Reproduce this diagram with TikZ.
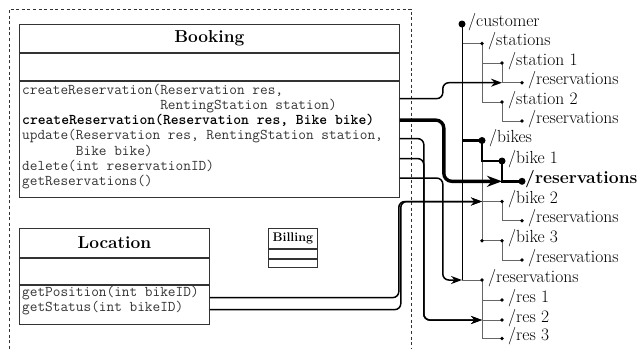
\documentclass[tikz,border=0pt]{standalone}
\usepackage{fontspec}
\usetikzlibrary{arrows.meta}
\pgfdeclarelayer{background}
\pgfsetlayers{background,main}
\newcommand\hdfont{\fontsize{17.3}{20}\selectfont\bfseries}
\newcommand\monofont{\fontsize{14.9}{15.3}\selectfont\ttfamily}
\newcommand\treefont{\fontsize{17.5}{20}\selectfont}
\begin{document}
\begin{tikzpicture}[x=1pt,y=-1pt,
  box/.style={draw=black!80, line width=0.8pt, anchor=north west, inner sep=0pt, minimum width=#1},
  op/.style={anchor=base west, inner sep=0pt, font=\monofont, text=black!80},
  opbold/.style={op, font=\monofont\bfseries, text=black},
  dot/.style={circle, fill=black, inner sep=0pt, minimum size=3.8pt},
  bigdot/.style={circle, fill=black, inner sep=0pt, minimum size=7pt},
  lbl/.style={anchor=mid west, inner sep=0pt, font=\treefont},
  tl/.style={draw=black!60, line width=0.9pt},
  trunk/.style={draw=black, line width=0.9pt},
  hl/.style={draw=black, line width=2.6pt},
  con/.style={draw=black, line width=1.5pt, rounded corners=6pt, -{Stealth[length=11pt,width=8pt]}},
  conthick/.style={draw=black, line width=3.4pt, rounded corners=8pt, -{Stealth[length=15pt,width=11pt]}},
  frame/.style={draw=black!80, line width=0.8pt, dash pattern=on 3pt off 2.6pt}
]
\useasboundingbox (0,0) rectangle (639,349);

% dashed component frame
\draw[frame] (9,349) -- (9,9) -- (411,9) -- (411,349);

% Booking class
\node[box=380pt, minimum height=28pt, font=\hdfont] (bkhead) at (19,24) {Booking};
\node[box=380pt, minimum height=27pt] (bkattr) at (bkhead.south west) {};
\node[box=380pt, minimum height=116pt] (bkops) at (bkattr.south west) {};
\node[op] (m1) at (22,94) {createReservation(Reservation res,};
\node[op] (m1b) at (22,109.3) {\phantom{createReservation(}RentingStation station)};
\node[opbold] (m2) at (22,124.6) {createReservation(Reservation res, Bike bike)};
\node[op] (m3) at (22,139.9) {update(Reservation res, RentingStation station,};
\node[op] (m3b) at (22,155.2) {\phantom{update(}Bike bike)};
\node[op] (m4) at (22,170.5) {delete(int reservationID)};
\node[op] (m5) at (22,185.8) {getReservations()};

% Location class
\node[box=190pt, minimum height=29pt, font=\hdfont] (lchead) at (19,228) {Location};
\node[box=190pt, minimum height=26pt] (lcattr) at (lchead.south west) {};
\node[box=190pt, minimum height=39pt] (lcops) at (lcattr.south west) {};
\node[op] (l1) at (22,296.8) {getPosition(int bikeID)};
\node[op] (l2) at (22,311.2) {getStatus(int bikeID)};

% Billing class
\node[box=49pt, minimum height=20pt, font=\fontsize{12.5}{14}\selectfont\bfseries] (blhead) at (268,228) {Billing};
\node[box=49pt, minimum height=9pt] (blattr) at (blhead.south west) {};
\node[box=49pt, minimum height=8pt] (blops) at (blattr.south west) {};

% resource tree: dots
\node[bigdot] (customer) at (462,24) {};
\node[dot] (stations) at (482,43.5) {};
\node[dot] (st1) at (502,63) {};
\node[dot] (st1r) at (522,82.7) {};
\node[dot] (st2) at (502,102) {};
\node[dot] (st2r) at (522,121) {};
\node[bigdot] (bikes) at (482,140.5) {};
\node[bigdot] (bike1) at (502,161) {};
\node[bigdot] (b1r) at (522,181.3) {};
\node[dot] (bike2) at (502,201.5) {};
\node[dot] (b2r) at (522,220.8) {};
\node[dot] (bike3) at (502,240.7) {};
\node[dot] (b3j) at (482,240.7) {};
\node[dot] (b3r) at (522,260) {};
\node[dot] (topres) at (482,280) {};
\node[dot] (res1) at (502,300) {};
\node[dot] (res2) at (502,320) {};
\node[dot] (res3) at (502,338.5) {};

% resource tree: labels
\node[lbl] (customer-l) at ([xshift=6pt]customer.center) {/customer};
\node[lbl] (stations-l) at ([xshift=6pt]stations.center) {/stations};
\node[lbl] (st1-l) at ([xshift=6pt]st1.center) {/station 1};
\node[lbl] (st1r-l) at ([xshift=6pt]st1r.center) {/reservations};
\node[lbl] (st2-l) at ([xshift=6pt]st2.center) {/station 2};
\node[lbl] (st2r-l) at ([xshift=6pt]st2r.center) {/reservations};
\node[lbl] (bikes-l) at ([xshift=7pt]bikes.center) {/bikes};
\node[lbl] (bike1-l) at ([xshift=6pt]bike1.center) {/bike 1};
\node[lbl, font=\treefont\bfseries] (b1r-l) at ([xshift=3pt]b1r.center) {/reservations};
\node[lbl] (bike2-l) at ([xshift=6pt]bike2.center) {/bike 2};
\node[lbl] (b2r-l) at ([xshift=6pt]b2r.center) {/reservations};
\node[lbl] (bike3-l) at ([xshift=6pt]bike3.center) {/bike 3};
\node[lbl] (b3r-l) at ([xshift=6pt]b3r.center) {/reservations};
\node[lbl] (topres-l) at ([xshift=6pt]topres.center) {/reservations};
\node[lbl] (res1-l) at ([xshift=6pt]res1.center) {/res 1};
\node[lbl] (res2-l) at ([xshift=6pt]res2.center) {/res 2};
\node[lbl] (res3-l) at ([xshift=6pt]res3.center) {/res 3};

% resource tree: edges
\begin{pgfonlayer}{background}
\draw[tl] (customer.center) |- (stations.center);
\draw[tl] (customer.center) |- (topres.center);
\draw[tl] (stations.center) |- (st1.center);
\draw[tl] (stations.center) |- (st2.center);
\draw[tl] (st1.center) |- (st1r.center);
\draw[tl] (st2.center) |- (st2r.center);
\draw[tl] (bikes.center) |- (bike2.center);
\draw[tl] (bikes.center) -- (b3j.center) -- (bike3.center);
\draw[tl] (bike2.center) |- (b2r.center);
\draw[tl] (bike3.center) |- (b3r.center);
\draw[tl] (topres.center) |- (res1.center);
\draw[tl] (topres.center) |- (res2.center);
\draw[tl] (topres.center) |- (res3.center);
\draw[trunk] (customer.center) -- (customer.center |- topres.center);
\draw[hl] (customer.center |- bikes.center) -- (bikes.center) |- (bike1.center) |- (b1r.center);
\end{pgfonlayer}

% connectors
\draw[con] ([yshift=-18pt]bkops.north east) -- ++(43,0) |- (st1.center |- st1r.center);
\draw[conthick] ([yshift=-39.5pt]bkops.north east) -- ++(44,0) |- (bike1.center |- b1r.center);
\draw[con] ([yshift=-58pt]bkops.north east) -- ++(24,0) |- (topres.center |- res2.center);
\draw[con] ([yshift=-78pt]bkops.north east) -- ++(24,0) |- (topres.center |- res2.center);
\draw[con] ([yshift=-97.5pt]bkops.north east) -- ++(43,0) |- (customer.center |- topres.center);
\draw[con] ([yshift=-13pt]lcops.north east) -- ++(189,0) |- (bikes.center |- bike2.center);
\draw[con] ([yshift=-25pt]lcops.north east) -- ++(191,0) |- (bikes.center |- bike2.center);
\end{tikzpicture}
\end{document}
